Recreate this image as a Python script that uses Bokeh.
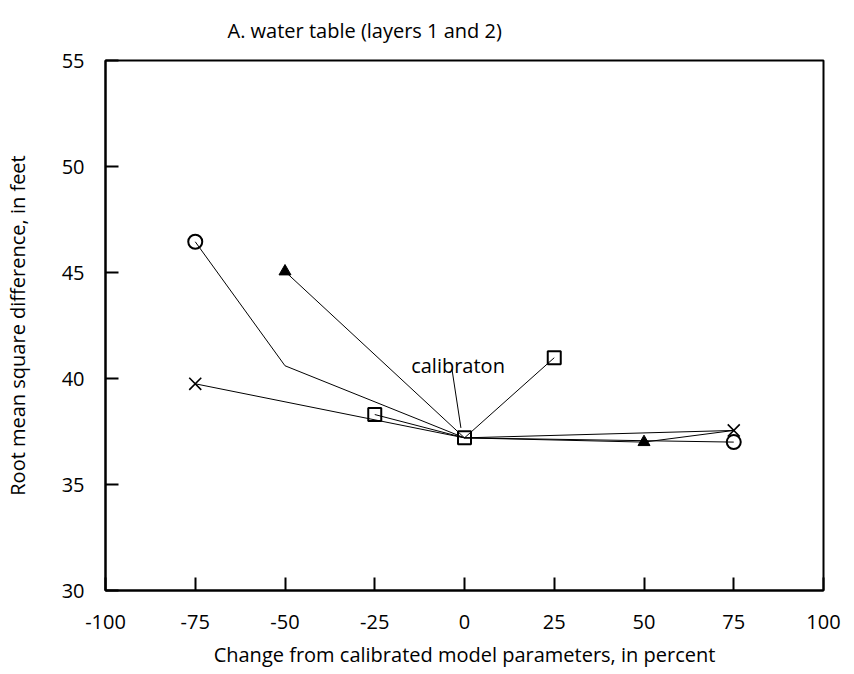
from bokeh.plotting import figure
from bokeh.models import Range1d, FixedTicker
from bokeh.embed import file_html
from bokeh.resources import INLINE
from bokeh.core.properties import value

# ---- data ----
circle_x = [-75, -50, 0, 75]
circle_y = [46.45, 40.6, 37.2, 37.0]
circle_mx = [-75, 75]
circle_my = [46.45, 37.0]

tri_x = [-50, 0, 50, 75]
tri_y = [45.05, 37.2, 37.0, 37.55]
tri_mx = [-50, 50]
tri_my = [45.05, 37.0]

cross_x = [-75, 0, 75]
cross_y = [39.75, 37.2, 37.55]
cross_mx = [-75, 75]
cross_my = [39.75, 37.55]

square_x = [-25, 0, 25]
square_y = [38.3, 37.2, 40.98]

label_text = ["calibraton"]
label_x = [-1.8]
label_y = [40.6]
leader_x = [-3.5, -1.0]
leader_y = [40.45, 37.67]

title_text = "A. water table (layers 1 and 2)"

x_ticks = [-100, -75, -50, -25, 0, 25, 50, 75, 100]
y_ticks = [30, 35, 40, 45, 50, 55]

FONT = "Open Sans"
FS = "20px"

X0, X1, Y0, Y1 = -100, 100, 30, 55

p = figure(width=846, height=670,
           x_range=Range1d(X0, X1), y_range=Range1d(Y0, Y1),
           output_backend="svg", toolbar_location=None,
           min_border_left=103, min_border_right=23,
           min_border_top=60, min_border_bottom=79)

p.title.text = title_text
p.title.text_font = FONT
p.title.text_font_size = FS
p.title.text_font_style = "normal"
p.title.text_color = "black"
p.title.align = "left"
p.title.vertical_align = "top"
p.title.offset = 122
p.title.standoff = 30

p.grid.visible = False
p.outline_line_color = "black"
p.outline_line_width = 2
p.outline_line_alpha = 1.0
p.background_fill_color = "white"
p.border_fill_color = "white"

for ax, ticks in ((p.xaxis[0], x_ticks), (p.yaxis[0], y_ticks)):
    ax.ticker = FixedTicker(ticks=ticks)
    ax.major_label_overrides = {t: str(t) for t in ticks}
    ax.axis_line_color = "black"
    ax.axis_line_width = 2
    ax.major_tick_in = 13
    ax.major_tick_out = 0
    ax.major_tick_line_color = "black"
    ax.major_tick_line_width = 2
    ax.minor_tick_line_color = None
    ax.major_label_text_font = FONT
    ax.major_label_text_font_size = FS
    ax.major_label_text_color = "black"
    ax.axis_label_text_font = FONT
    ax.axis_label_text_font_size = FS
    ax.axis_label_text_font_style = "normal"
    ax.axis_label_text_color = "black"

p.xaxis.axis_label = "Change from calibrated model parameters, in percent"
p.yaxis.axis_label = "Root mean square difference, in feet"
p.xaxis.major_label_standoff = 24
p.xaxis.axis_label_standoff = 9
p.yaxis.major_label_standoff = 21
p.yaxis.axis_label_standoff = 28

# lines
p.line(circle_x, circle_y, line_color="black", line_width=1)
p.line(tri_x, tri_y, line_color="black", line_width=1)
p.line(cross_x, cross_y, line_color="black", line_width=1)
p.line(square_x, square_y, line_color="black", line_width=1)
p.line(leader_x, leader_y, line_color="black", line_width=1)

# markers
p.scatter(circle_mx, circle_my, marker="circle", size=14, fill_color=None,
          line_color="black", line_width=2)
p.scatter(tri_mx, tri_my, marker="triangle", size=12, fill_color="black",
          line_color="black", line_width=1)
p.scatter(cross_mx, cross_my, marker="x", size=17,
          line_color="black", line_width=1.6)
p.scatter(square_x, square_y, marker="square", size=13, fill_color=None,
          line_color="black", line_width=2)

p.text(label_x, label_y, text=label_text, text_font=value(FONT),
       text_font_size=FS, text_align="center", text_baseline="alphabetic",
       text_color="black")

open("out.html", "w").write(file_html(p, INLINE))
